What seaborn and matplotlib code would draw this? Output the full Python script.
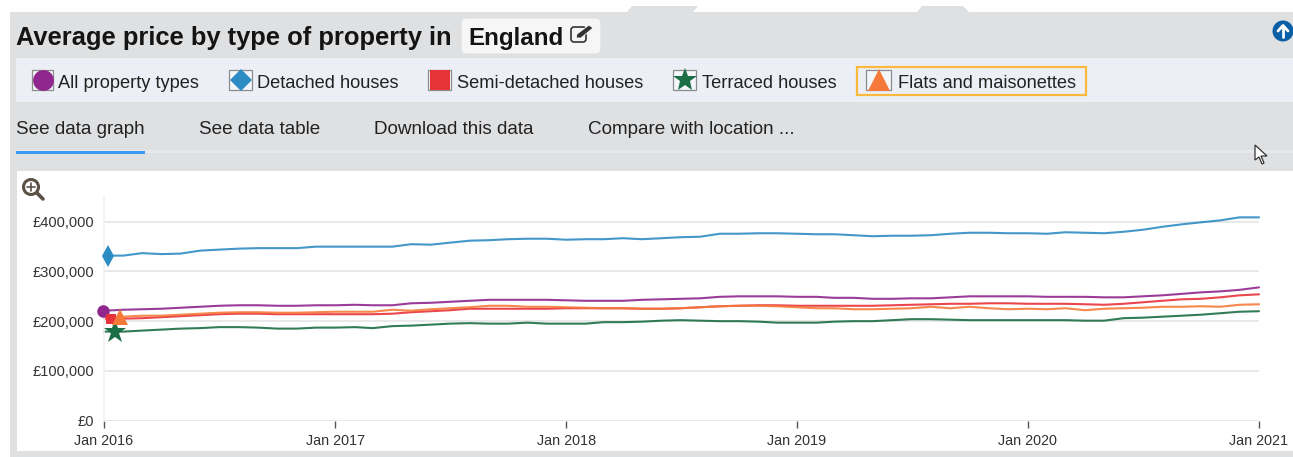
import numpy as np
import pandas as pd
import matplotlib
matplotlib.use("Agg")
import matplotlib.pyplot as plt
import matplotlib.dates as mdates
from matplotlib.patches import Rectangle, FancyBboxPatch, Polygon, Circle
from matplotlib.transforms import offset_copy
from matplotlib.ticker import FuncFormatter
import seaborn as sns

title = "Average price by type of property in"
location = "England"
series_names = ["All property types", "Detached houses", "Semi-detached houses",
                "Terraced houses", "Flats and maisonettes"]
tab_labels = ["See data graph", "See data table", "Download this data", "Compare with location ..."]
dates = pd.date_range("2016-01-01", "2021-01-01", freq="MS")

all_types = [221, 223, 224, 225, 227, 229, 231, 232, 232, 231, 231, 232,
             232, 233, 232, 232, 236, 237, 239, 241, 243, 243, 243, 243,
             242, 241, 241, 241, 243, 244, 245, 246, 249, 250, 250, 250,
             249, 249, 247, 247, 245, 245, 246, 246, 248, 250, 250, 250,
             250, 249, 249, 249, 248, 248, 250, 252, 255, 258, 260, 263, 268]
detached = [332, 332, 337, 335, 336, 342, 344, 346, 347, 347, 347, 350,
            350, 350, 350, 350, 355, 354, 358, 362, 363, 365, 366, 366,
            364, 365, 365, 367, 365, 367, 369, 370, 376, 376, 377, 377,
            376, 375, 375, 373, 371, 372, 372, 373, 376, 378, 378, 377,
            377, 376, 379, 378, 377, 380, 384, 390, 395, 399, 403, 409, 409]
semi = [205, 205, 206, 208, 210, 212, 214, 215, 215, 214, 214, 214,
        214, 214, 214, 215, 218, 220, 222, 225, 225, 225, 225, 225,
        226, 226, 226, 226, 225, 225, 226, 228, 230, 231, 232, 232,
        231, 231, 231, 231, 231, 232, 233, 234, 235, 235, 236, 236,
        235, 235, 235, 234, 233, 235, 238, 241, 244, 245, 248, 252, 254]
terraced = [179, 179, 181, 183, 185, 186, 188, 188, 187, 185, 185, 187,
            187, 188, 186, 190, 191, 193, 195, 196, 195, 195, 197, 195,
            195, 195, 198, 198, 199, 201, 202, 201, 200, 200, 199, 197,
            197, 197, 199, 200, 200, 202, 204, 204, 203, 202, 202, 202,
            202, 202, 202, 201, 201, 206, 207, 209, 211, 213, 216, 219, 220]
flats = [208, 209, 211, 211, 213, 215, 217, 218, 218, 217, 217, 218,
         219, 219, 219, 223, 221, 224, 226, 228, 231, 231, 229, 229,
         228, 227, 226, 226, 225, 225, 226, 228, 230, 231, 231, 230,
         228, 226, 226, 224, 224, 225, 226, 229, 226, 229, 226, 224,
         225, 224, 226, 222, 225, 226, 227, 229, 229, 230, 229, 233, 234]
y_ticks = [0, 100000, 200000, 300000, 400000]
x_ticks = ["2016-01-01", "2017-01-01", "2018-01-01", "2019-01-01", "2020-01-01", "2021-01-01"]

W, H = 1293, 457
sns.set_theme(style="white")
plt.rcParams["font.family"] = ["Liberation Sans", "DejaVu Sans"]

colors = ["#90278e", "#2e8cc4", "#e8323a", "#1b6e45", "#f57a3a"]
df = pd.DataFrame({"date": dates, **dict(zip(series_names, [all_types, detached, semi, terraced, flats]))})
long = df.melt("date", var_name="type", value_name="price")
long["price"] *= 1000

fig = plt.figure(figsize=(W / 100, H / 100), dpi=100, facecolor="white")

# page chrome, in pixel coordinates
bg = fig.add_axes([0, 0, 1, 1], zorder=0)
bg.set_xlim(0, W); bg.set_ylim(H, 0); bg.axis("off")
GREY = "#dfe0e2"
bg.add_patch(Rectangle((10, 12), W - 10, H - 12, fc=GREY, ec="none"))
for pts in ([(627, 12), (632, 6), (698, 6), (693, 12)], [(917, 12), (922, 6), (963, 6), (969, 12)]):
    bg.add_patch(Polygon(pts, fc=GREY, ec="none"))
bg.add_patch(Rectangle((16, 58), W - 16, 44, fc="#eceff5", ec="none"))
bg.add_patch(Rectangle((17, 171), W - 17, 280, fc="white", ec="none"))
bg.add_patch(FancyBboxPatch((463, 20), 136, 32, boxstyle="round,pad=0,rounding_size=3", fc="#f6f6f6", ec="#f6f6f6", lw=2))
bg.text(16, 36, title, fontsize=18.4, fontweight="bold", color="#141414", va="center_baseline")
bg.text(468, 36, location, fontsize=17.4, fontweight="bold", color="#141414", va="center_baseline")

# edit icon
bg.add_patch(FancyBboxPatch((571, 27), 15, 15, boxstyle="round,pad=0,rounding_size=3", fc="none", ec="#333333", lw=1.2))
bg.add_patch(Polygon([(576, 38), (577, 34), (589, 25), (593, 28), (581, 38)], fc="#333333", ec="white", lw=0.6))

# up-arrow button
bg.add_patch(Circle((1283, 31), 10.5, fc="#0b5fa5", ec="none"))
bg.plot([1283, 1283], [37, 26], color="white", lw=2)
bg.plot([1278, 1283, 1288], [31, 25.5, 31], color="white", lw=2)

# legend row
swatches = [(32, 21, "o", 58), (229, 23, "D", 257), (428, 23, "s", 457), (673, 23, "*", 702), (866, 25, "^", 898)]
sizes = [15, 11, 15, 18, 15.5]
for (x, w, m, tx), c, n, s in zip(swatches, colors, series_names, sizes):
    bg.add_patch(Rectangle((x, 70), w, 20, fc="#f4f6f9", ec="#8c8c8c", lw=0.9))
    bg.plot([x + w / 2], [80], marker=m, ms=s, mfc=c, mec=c, mew=0, ls="none")
    bg.text(tx, 81, n, fontsize=13.15, color="#222222", va="center_baseline")
bg.add_patch(Rectangle((857, 67), 229, 28, fc="none", ec="#fdb93f", lw=1.6))

# tabs
for tx, t in zip([16, 199, 374, 588], tab_labels):
    bg.text(tx, 128, t, fontsize=13.6, color="#222222", va="center_baseline")
bg.add_patch(Rectangle((16, 150), W - 16, 3, fc="#e6e8ee", ec="none"))
bg.add_patch(Rectangle((16, 150.5), 129, 3, fc="#3d9bf5", ec="none"))

# mouse pointer
bg.add_patch(Polygon([(1255, 145), (1255, 160), (1259, 157), (1262, 164), (1264, 163), (1261, 156), (1267, 156)],
                     fc="white", ec="#333333", lw=0.9))

# zoom icon
bg.add_patch(Circle((31, 187), 7.5, fc="white", ec="#5b5245", lw=2.2))
bg.plot([37, 43], [193, 199], color="#5b5245", lw=2.6, solid_capstyle="round")
bg.plot([27, 35], [187, 187], color="#5b5245", lw=1.2)
bg.plot([31, 31], [183, 191], color="#5b5245", lw=1.2)

# chart
left, right, top, bottom = 104, 1259, 196, 420.5
ax = fig.add_axes([left / W, 1 - bottom / H, (right - left) / W, (bottom - top) / H], zorder=2)
ax.patch.set_alpha(0)
sns.lineplot(data=long, x="date", y="price", hue="type", hue_order=series_names,
             palette=colors, linewidth=1.5, alpha=0.9, legend=False, ax=ax, errorbar=None, clip_on=False)
ax.set_xlim(dates[0], dates[-1])
ax.set_ylim(0, 452000)
ax.set_xlabel(""); ax.set_ylabel("")
ax.set_yticks(y_ticks)
ax.yaxis.set_major_formatter(FuncFormatter(lambda v, _: f"£{int(v):,}"))
ax.set_xticks(pd.to_datetime(x_ticks))
ax.xaxis.set_major_formatter(mdates.DateFormatter("%b %Y"))
ax.grid(axis="y", color="#e9e9e9", lw=1.4)
ax.grid(axis="x", visible=False)
ax.set_axisbelow(True)
for k in ("top", "right", "bottom"):
    ax.spines[k].set_visible(False)
ax.spines["left"].set_color("#f0f0f0")
ax.spines["left"].set_linewidth(1.2)
ax.tick_params(axis="x", length=5, width=1, color="#555555", labelsize=10.4, labelcolor="#333333", pad=5, bottom=True)
ax.tick_params(axis="y", length=0, labelsize=10.5, labelcolor="#333333", pad=7)

# series markers sit at each line's first value, nudged sideways as in the original
shifts = [-1, 4, 7, 11, 16]
msizes = [9, 11, 7.5, 17, 11.5]
markers = ["o", "d", "s", "*", "^"]
for name, c, m, dx, ms in zip(series_names, colors, markers, shifts, msizes):
    tr = offset_copy(ax.transData, fig=fig, x=dx * 0.72, y=0, units="points")
    ax.plot([dates[0]], [df[name].iloc[0] * 1000], marker=m, ms=ms, mfc=c, mec=c, mew=0,
            ls="none", transform=tr, clip_on=False, zorder=5)

fig.savefig("out.png", dpi=100)
